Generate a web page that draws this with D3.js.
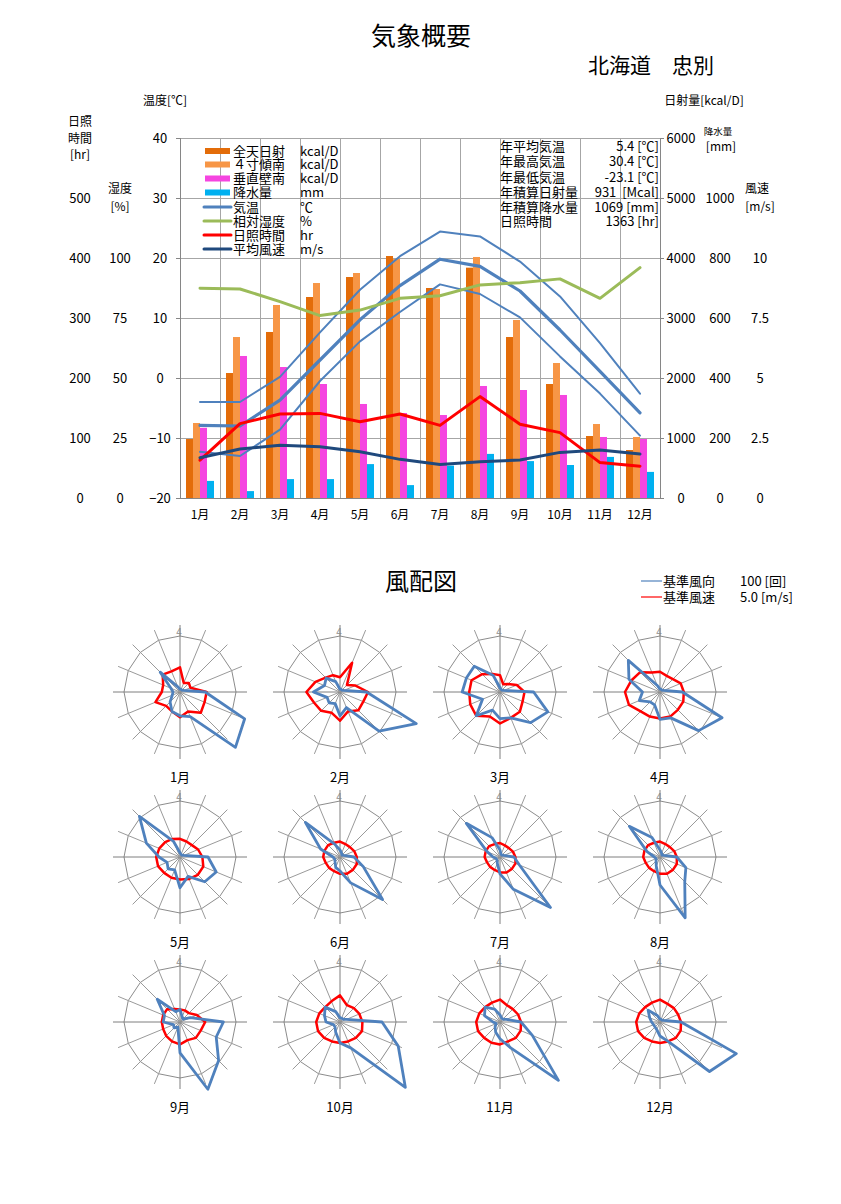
<!DOCTYPE html>
<html><head><meta charset="utf-8">
<script src="https://cdn.jsdelivr.net/npm/d3@7"></script>
<style>
body{margin:0;background:#fff;}
text{font-family:"Noto Sans CJK JP","Noto Sans",sans-serif;fill:#000;}
</style></head><body>
<svg id="c" width="841" height="1204"></svg>
<script>
// ---------- data ----------
const months = ["1月","2月","3月","4月","5月","6月","7月","8月","9月","10月","11月","12月"];
const radAll  = [983,2083,2767,3350,3683,4033,3500,3839,2683,1900,1033,800];
const radTilt = [1250,2683,3217,3583,3750,3983,3483,4017,2967,2250,1233,1017];
const radWall = [1170,2367,2183,1900,1567,1417,1383,1867,1800,1717,1017,983];
const precip  = [57,23,63,63,113,43,108,147,123,110,137,87];
const tempMean = [-7.9,-8.0,-3.7,3.0,9.7,15.4,19.8,18.6,14.5,8.0,1.1,-5.8];
const tempMax  = [-4.0,-4.0,0.2,7.6,14.7,20.3,24.4,23.6,19.4,13.6,5.8,-2.6];
const tempMin  = [-12.3,-13.0,-8.6,-0.5,6.1,11.0,15.6,14.0,10.1,3.6,-2.6,-9.6];
const humidity = [87.4,87.1,81.8,76.0,78.3,83.2,84.3,88.8,89.7,91.3,83.2,96.0];
const sunshine = [63,124,140,141,127,140,121,169,123,109,59,53];
const windAvg  = [1.68,2.04,2.2,2.14,1.93,1.61,1.4,1.51,1.58,1.9,2.0,1.83];

const ticksTemp = [-20,-10,0,10,20,30,40];
const ticksSun = [0,100,200,300,400,500];
const ticksHum = [0,25,50,75,100];
const ticksRad = [0,1000,2000,3000,4000,5000,6000];
const ticksPrec = [0,200,400,600,800,1000];
const ticksWind = [0,2.5,5,7.5,10];

const statLabels = ["年平均気温","年最高気温","年最低気温","年積算日射量","年積算降水量","日照時間"];
const statValues = ["5.4 [℃]","30.4 [℃]","-23.1 [℃]","931  [Mcal]","1069 [mm]","1363 [hr]"];

const legendNames = ["全天日射","４寸傾南","垂直壁南","降水量","気温","相対湿度","日照時間","平均風速"];
const legendUnits = ["kcal/D","kcal/D","kcal/D","mm","℃","%","hr","m/s"];

// wind rose: 16 directions from N clockwise (ring = 4)
const windFreq = [
 [0.2,0.2,0.2,0.3,1.8,5.0,5.6,1.9,1.7,1.5,1.0,0.6,0.5,0.7,2.0,0.4],
 [0.2,0.2,0.2,0.3,1.9,5.9,3.95,1.2,1.7,0.9,1.1,1.0,1.9,1.2,1.4,0.8],
 [0.3,0.2,0.2,0.3,2.4,3.7,3.1,2.0,1.9,1.4,2.4,1.35,2.7,2.6,2.6,1.3],
 [0.2,0.2,0.2,0.3,1.6,4.8,3.9,2.0,1.95,1.0,1.0,1.6,1.25,2.4,3.2,0.5],
 [0.3,0.2,0.2,0.3,2.0,2.8,2.5,1.5,2.2,1.0,1.2,1.0,1.5,2.6,4.1,1.2],
 [0.5,0.3,0.2,0.3,1.0,1.8,4.3,2.0,1.0,0.8,0.5,0.4,0.5,1.5,3.5,1.0],
 [0.5,0.2,0.2,0.3,1.0,1.5,5.1,2.5,1.2,0.5,0.3,0.3,0.5,1.0,3.4,1.5],
 [0.5,0.3,0.2,0.3,1.2,2.0,2.5,4.7,2.0,0.7,0.4,0.3,0.4,1.0,3.1,1.5],
 [0.9,0.4,0.3,0.8,3.1,2.8,3.9,5.2,2.2,0.4,0.6,0.5,1.2,1.2,2.3,0.8],
 [0.3,0.3,0.3,0.5,3.0,4.5,6.6,2.0,1.5,0.8,0.5,0.5,1.0,1.2,1.5,0.8],
 [0.5,0.3,0.3,0.5,1.5,2.5,5.9,2.0,1.2,0.8,0.5,0.3,0.5,1.2,1.5,1.0],
 [0.2,0.2,0.2,0.3,1.5,5.9,5.0,1.5,1.0,0.6,0.5,0.5,0.6,0.8,1.2,0.5]
];
const windSpd = [
 [1.76,0.7,0.9,0.8,1.9,1.9,2.1,1.5,1.8,1.5,1.4,1.9,1.3,1.3,1.75,1.6],
 [1.05,2.26,0.7,1.2,2.0,1.8,1.85,1.5,2.05,1.6,1.9,2.0,2.4,1.9,1.45,1.3],
 [1.2,0.6,0.8,1.3,1.75,1.75,2.0,2.0,2.25,1.9,2.4,2.3,2.2,2.2,1.8,1.4],
 [1.45,1.25,1.3,1.6,1.7,1.8,1.8,1.9,1.9,1.9,1.95,2.4,2.5,2.2,2.0,1.5],
 [1.3,1.2,1.2,1.4,1.6,1.8,1.8,1.7,1.6,1.6,1.6,1.7,1.7,1.6,1.5,1.4],
 [1.1,1.0,1.0,1.1,1.2,1.3,1.3,1.3,1.2,1.1,1.1,1.1,1.2,1.2,1.2,1.1],
 [1.0,0.9,0.9,1.0,1.1,1.2,1.2,1.2,1.1,1.0,1.0,1.0,1.1,1.1,1.1,1.0],
 [1.1,1.0,1.0,1.1,1.2,1.3,1.3,1.3,1.2,1.1,1.1,1.1,1.2,1.2,1.2,1.1],
 [0.9,0.9,0.9,1.3,1.8,1.6,1.6,1.4,1.6,1.5,1.4,1.3,1.3,1.3,1.3,1.0],
 [1.9,1.3,1.4,1.5,1.6,1.7,1.6,1.5,1.5,1.5,1.6,1.7,1.7,1.6,1.5,1.6],
 [1.6,1.3,1.3,1.4,1.5,1.6,1.6,1.5,1.6,1.6,1.6,1.7,1.7,1.6,1.5,1.5],
 [1.6,1.4,1.4,1.4,1.5,1.6,1.6,1.5,1.5,1.5,1.6,1.7,1.7,1.6,1.5,1.5]
];

// ---------- layout ----------
const svg = d3.select("#c");
const L = 180, R = 660, T = 138, B = 498;
const C = {all:"#E36C09", tilt:"#F79646", wall:"#F545E0", prec:"#00B0F0",
           temp:"#4F81BD", hum:"#9BBB59", sun:"#FF0000", wind:"#1F497D"};
const FONT = 13;

const x = d3.scaleBand().domain(months).range([L,R]);
const yTemp = d3.scaleLinear().domain([-20,40]).range([B,T]);
const ySun  = d3.scaleLinear().domain([0,600]).range([B,T]);
const yHum  = d3.scaleLinear().domain([0,150]).range([B,T]);
const yRad  = d3.scaleLinear().domain([0,6000]).range([B,T]);
const yPrec = d3.scaleLinear().domain([0,1200]).range([B,T]);
const yWind = d3.scaleLinear().domain([0,15]).range([B,T]);

// titles
svg.append("text").attr("x",421).attr("y",36).attr("dy","0.35em").attr("text-anchor","middle")
  .style("font-size","25px").text("気象概要");
svg.append("text").attr("x",651).attr("y",66).attr("dy","0.35em").attr("text-anchor","middle")
  .style("font-size","21px").text("北海道　忠別");

// gridlines
const grid = svg.append("g");
grid.selectAll("line.h").data(ticksTemp).join("line")
  .attr("x1",L).attr("x2",R).attr("y1",d=>yTemp(d)).attr("y2",d=>yTemp(d))
  .attr("stroke","#a6a6a6").attr("stroke-width",1).attr("shape-rendering","crispEdges");
grid.selectAll("line.v").data(months.slice(1)).join("line")
  .attr("x1",d=>x(d)).attr("x2",d=>x(d)).attr("y1",T).attr("y2",B)
  .attr("stroke","#a6a6a6").attr("stroke-width",1).attr("shape-rendering","crispEdges");
// frame
svg.append("line").attr("x1",L).attr("x2",L).attr("y1",T).attr("y2",B).attr("stroke","#868686").attr("shape-rendering","crispEdges");
svg.append("line").attr("x1",R).attr("x2",R).attr("y1",T).attr("y2",B).attr("stroke","#868686").attr("shape-rendering","crispEdges");
svg.append("line").attr("x1",L).attr("x2",R).attr("y1",B).attr("y2",B).attr("stroke","#868686").attr("shape-rendering","crispEdges");
svg.append("g").selectAll("line").data(ticksTemp).join("line")
  .attr("x1",L-4).attr("x2",L).attr("y1",d=>yTemp(d)).attr("y2",d=>yTemp(d)).attr("stroke","#868686").attr("shape-rendering","crispEdges");
svg.append("g").selectAll("line").data(ticksRad).join("line")
  .attr("x1",R).attr("x2",R+4).attr("y1",d=>yRad(d)).attr("y2",d=>yRad(d)).attr("stroke","#868686").attr("shape-rendering","crispEdges");

// bars
const bw = 7, boff = 6;
const barSeries = [
  {vals:radAll, scale:yRad, col:C.all},
  {vals:radTilt, scale:yRad, col:C.tilt},
  {vals:radWall, scale:yRad, col:C.wall},
  {vals:precip, scale:yPrec, col:C.prec}
];
barSeries.forEach((s,i)=>{
  svg.append("g").selectAll("rect").data(s.vals).join("rect")
    .attr("x",(d,j)=>x(months[j])+boff+i*bw).attr("width",bw)
    .attr("y",d=>s.scale(d)).attr("height",d=>B-s.scale(d)).attr("fill",s.col);
});

// lines
function drawLine(vals, scale, col, w){
  const ln = d3.line().x((d,j)=>x(months[j])+x.bandwidth()/2).y(d=>scale(d));
  svg.append("path").datum(vals).attr("d",ln).attr("fill","none")
    .attr("stroke",col).attr("stroke-width",w).attr("stroke-linejoin","round").attr("stroke-linecap","round");
}
drawLine(tempMax, yTemp, C.temp, 2);
drawLine(tempMin, yTemp, C.temp, 2);
drawLine(tempMean, yTemp, C.temp, 3.2);
drawLine(humidity, yHum, C.hum, 3);
drawLine(sunshine, ySun, C.sun, 3);
drawLine(windAvg, yWind, C.wind, 3);

// axes
function axisAt(scale, ticks, xpos, fmt){
  const g = svg.append("g").attr("transform",`translate(${xpos},0)`)
    .call(d3.axisLeft(scale).tickValues(ticks).tickSize(0).tickPadding(0).tickFormat(fmt||(d=>d)));
  g.select(".domain").remove();
  g.selectAll("text").attr("text-anchor","middle").attr("x",0)
    .style("font-size",FONT+"px").style("font-family",'"Noto Sans CJK JP",sans-serif').attr("fill","#000");
}
axisAt(ySun, ticksSun, 80);
axisAt(yHum, ticksHum, 120);
axisAt(yTemp, ticksTemp, 160, d=>d<0?"−"+Math.abs(d):d);
axisAt(yRad, ticksRad, 681);
axisAt(yPrec, ticksPrec, 720);
axisAt(yWind, ticksWind, 760);

const xa = svg.append("g").attr("transform",`translate(0,${B})`)
  .call(d3.axisBottom(x).tickSize(0).tickPadding(12));
xa.select(".domain").remove();
xa.selectAll("text").style("font-size","12px").style("font-family",'"Noto Sans CJK JP",sans-serif').attr("fill","#000");

// axis titles
function label(txt,xp,yp,size,anchor){
  svg.append("text").attr("x",xp).attr("y",yp).attr("dy","0.35em")
    .attr("text-anchor",anchor||"middle").style("font-size",(size||12)+"px").text(txt);
}
label("温度[℃]",165,101,12);
label("日照",80,122,12); label("時間",80,139,12); label("[hr]",80,155,12);
label("湿度",120,189,12); label("[%]",120,207,12);
label("日射量[kcal/D]",704,101,12);
label("降水量",718,132,9.5); label("[mm]",721,147,12);
label("風速",757,189,12); label("[m/s]",760,207,12);

// legend
const legY = [151,164.5,178.5,192.5,207,221,235,249];
const lg = svg.append("g");
legendNames.forEach((n,i)=>{
  const col = [C.all,C.tilt,C.wall,C.prec,C.temp,C.hum,C.sun,C.wind][i];
  if(i<4) lg.append("rect").attr("x",205).attr("y",legY[i]-3).attr("width",25).attr("height",6).attr("fill",col);
  else lg.append("line").attr("x1",204).attr("x2",231).attr("y1",legY[i]).attr("y2",legY[i]).attr("stroke",col).attr("stroke-width",3).attr("stroke-linecap","round");
  lg.append("text").attr("x",233).attr("y",legY[i]).attr("dy","0.35em").style("font-size","13px").text(n);
  lg.append("text").attr("x",300).attr("y",legY[i]).attr("dy","0.35em").style("font-size","13px").text(legendUnits[i]);
});

// stats
const stY = [146,161.5,177,192,207,221.5];
statLabels.forEach((s,i)=>{
  svg.append("text").attr("x",500).attr("y",stY[i]).attr("dy","0.35em").style("font-size","13px").text(s);
  svg.append("text").attr("x",659).attr("y",stY[i]).attr("dy","0.35em").attr("text-anchor","end")
    .attr("xml:space","preserve").style("white-space","pre").style("font-size","13px").text(statValues[i]);
});

// ---------- wind roses ----------
label("風配図",421,582,24);
const wl = svg.append("g");
wl.append("line").attr("x1",641).attr("x2",662).attr("y1",581).attr("y2",581).attr("stroke",C.temp).attr("stroke-width",1.2);
wl.append("line").attr("x1",641).attr("x2",662).attr("y1",597).attr("y2",597).attr("stroke",C.sun).attr("stroke-width",1.2);
label("基準風向",663,581,13,"start"); label("100 [回]",740,581,13,"start");
label("基準風速",663,597,13,"start"); label("5.0 [m/s]",740,597,13,"start");

const rr = d3.scaleLinear().domain([0,4]).range([0,56]);
const dirs = d3.range(16);
const ang = i => i*2*Math.PI/16;
const colX = [180,340,500,660], rowY = [692,857,1022];
months.forEach((m,k)=>{
  const cx = colX[k%4], cy = rowY[Math.floor(k/4)];
  const g = svg.append("g").attr("transform",`translate(${cx},${cy})`);
  const ring = d3.lineRadial().angle(d=>ang(d)).radius(()=>rr(4)).curve(d3.curveLinearClosed);
  g.append("path").datum(dirs).attr("d",ring).attr("fill","none").attr("stroke","#8c8c8c").attr("stroke-width",1);
  g.selectAll("line").data(dirs).join("line")
    .attr("x1",0).attr("y1",0)
    .attr("x2",d=>67*Math.sin(ang(d))).attr("y2",d=>-67*Math.cos(ang(d)))
    .attr("stroke",d=>d%4===0?"#7f7f7f":"#9a9a9a").attr("stroke-width",1);
  g.append("text").attr("x",-1).attr("y",-56).attr("text-anchor","middle")
    .style("font-size","10px").style("fill","#8c8c8c").text("4");
  const rl = d3.lineRadial().angle((d,i)=>ang(i)).radius(d=>rr(d)).curve(d3.curveLinearClosed);
  g.append("path").datum(windSpd[k]).attr("d",rl).attr("fill","none").attr("stroke",C.sun).attr("stroke-width",2.5).attr("stroke-linejoin","round");
  g.append("path").datum(windFreq[k]).attr("d",rl).attr("fill","none").attr("stroke",C.temp).attr("stroke-width",2.8).attr("stroke-linejoin","round");
  g.append("text").attr("x",0).attr("y",85).attr("dy","0.35em").attr("text-anchor","middle")
    .style("font-size","13px").text(m);
});
</script>
</body></html>
